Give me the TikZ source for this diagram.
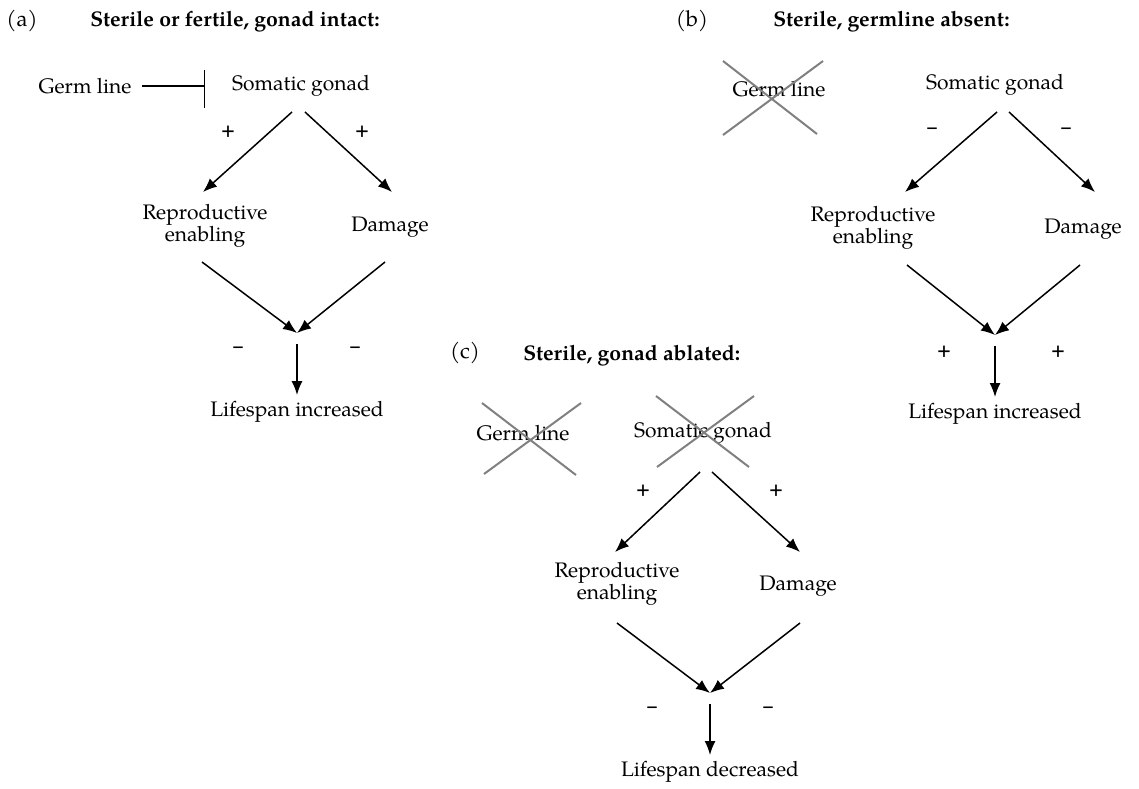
\documentclass[tikz,border=0pt]{standalone}
\usepackage{fontspec}
\setmainfont{TeX Gyre Pagella}
\usetikzlibrary{arrows.meta}
\begin{document}
\begin{tikzpicture}[x=0.5pt,y=-0.5pt,
  every node/.style={inner sep=0pt,font=\fontsize{10.5}{11}\selectfont},
  title/.style={anchor=base west,font=\fontsize{10.6}{11}\selectfont\bfseries},
  lab/.style={anchor=base,font=\fontsize{11}{11}\selectfont},
  two/.style={align=center},
  sign/.style={font=\fontsize{9.5}{11}\selectfont\bfseries},
  arr/.style={line width=0.75pt,-{Latex[length=7pt,width=5.5pt]}},
  inh/.style={line width=0.6pt},
  cross/.style={line width=1pt,draw=black!50}]
\useasboundingbox (0,0) rectangle (1139,788);
% ---------- panel (a)
\node[lab] (labA) at (22,26) {(a)};
\node[title] (tA) at (90,26) {Sterile or fertile, gonad intact:};
\node (glA) at (85,86) {Germ line};
\node (sgA) at (301,86) {Somatic gonad};
\node[two] (reA) at (205,226) {Reproductive\\enabling};
\node (dmA) at (390,227) {Damage};
\coordinate (jA) at (297,333);
\node (lsA) at (297,412) {Lifespan increased};
\draw[inh] ([shift={(10,0)}]glA.east) -- ([shift={(-27,0)}]sgA.west);
\draw[inh] ([shift={(-27,-16)}]sgA.west) -- ([shift={(-27,22)}]sgA.west);
\draw[arr] ([shift={(-9,26)}]sgA.center) -- ([shift={(-2,-34)}]reA.center);
\draw[arr] ([shift={(4,26)}]sgA.center) -- ([shift={(2,-35)}]dmA.center);
\draw[arr] ([shift={(-3,36)}]reA.center) -- (jA);
\draw[arr] ([shift={(-5,35)}]dmA.center) -- (jA);
\draw[arr] ([shift={(0,11)}]jA) -- ([shift={(0,-17)}]lsA.center);
\node[sign] (pA1) at (228,132) {+};
\node[sign] (pA2) at (362,132) {+};
\node[sign] (mA1) at (238,350) {–};
\node[sign] (mA2) at (355,350) {–};
% ---------- panel (b)
\node[lab] (labB) at (692,26) {(b)};
\node[title] (tB) at (773,26) {Sterile, germline absent:};
\node (glB) at (779,89) {Germ line};
\node (sgB) at (995,85) {Somatic gonad};
\node[two] (reB) at (873,228) {Reproductive\\enabling};
\node (dmB) at (1083,229) {Damage};
\coordinate (jB) at (995,335);
\node (lsB) at (995,414) {Lifespan increased};
\draw[cross] ([shift={(-56,-28)}]glB.center) -- ([shift={(38,45)}]glB.center);
\draw[cross] ([shift={(44,-28)}]glB.center) -- ([shift={(-56,46)}]glB.center);
\draw[arr] ([shift={(2,27)}]sgB.center) -- ([shift={(32,-36)}]reB.center);
\draw[arr] ([shift={(14,27)}]sgB.center) -- ([shift={(12,-37)}]dmB.center);
\draw[arr] ([shift={(34,37)}]reB.center) -- (jB);
\draw[arr] ([shift={(-3,36)}]dmB.center) -- (jB);
\draw[arr] ([shift={(0,11)}]jB) -- ([shift={(0,-17)}]lsB.center);
\node[sign] (mB1) at (932,131) {–};
\node[sign] (mB2) at (1066,131) {–};
\node[sign] (pB1) at (944,352) {+};
\node[sign] (pB2) at (1058,352) {+};
% ---------- panel (c)
\node[lab] (labC) at (465,358) {(c)};
\node[title] (tC) at (523,360) {Sterile, gonad ablated:};
\node (glC) at (523,433) {Germ line};
\node (sgC) at (703,433) {Somatic gonad};
\node[two] (reC) at (617,584) {Reproductive\\enabling};
\node (dmC) at (798,586) {Damage};
\coordinate (jC) at (710,693);
\node (lsC) at (710,772) {Lifespan decreased};
\draw[cross] ([shift={(-41,-30)}]glC.center) -- ([shift={(53,42)}]glC.center);
\draw[cross] ([shift={(58,-30)}]glC.center) -- ([shift={(-39,41)}]glC.center);
\draw[cross] ([shift={(-47,-37)}]sgC.center) -- ([shift={(46,34)}]sgC.center);
\draw[cross] ([shift={(51,-37)}]sgC.center) -- ([shift={(-46,34)}]sgC.center);
\draw[arr] ([shift={(-3,39)}]sgC.center) -- ([shift={(-2,-32)}]reC.center);
\draw[arr] ([shift={(9,39)}]sgC.center) -- ([shift={(2,-34)}]dmC.center);
\draw[arr] ([shift={(0,39)}]reC.center) -- (jC);
\draw[arr] ([shift={(2,37)}]dmC.center) -- (jC);
\draw[arr] ([shift={(0,11)}]jC) -- ([shift={(0,-17)}]lsC.center);
\node[sign] (pC1) at (643,491) {+};
\node[sign] (pC2) at (776,491) {+};
\node[sign] (mC1) at (652,710) {–};
\node[sign] (mC2) at (768,710) {–};
\end{tikzpicture}
\end{document}
